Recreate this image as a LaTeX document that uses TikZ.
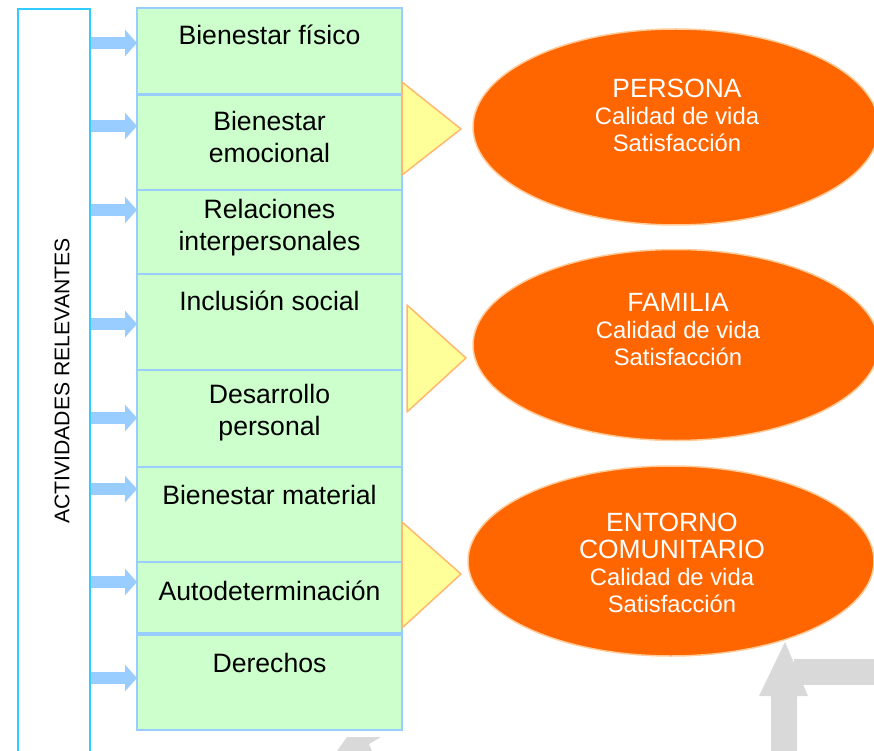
\documentclass[tikz,border=0pt]{standalone}
\usepackage{fontspec}
\setmainfont{Liberation Sans}
\usepackage{xcolor}
\usepackage{tikz}
\usetikzlibrary{arrows.meta,shapes.geometric}

\definecolor{barcyan}{HTML}{33CCFF}
\definecolor{arrowblue}{HTML}{99CCFF}
\definecolor{boxgreen}{HTML}{CCFFCC}
\definecolor{triyellow}{HTML}{FFFF99}
\definecolor{triorange}{HTML}{FFB870}
\definecolor{ellorange}{HTML}{FF6600}
\definecolor{ellrim}{HTML}{FFCC99}
\definecolor{shadowgray}{HTML}{D9D9D9}

\newcommand{\titlesize}{\fontsize{26.4}{29}\selectfont}

\tikzset{
  areabox/.style={draw=arrowblue, fill=boxgreen, line width=2pt, minimum width=265pt,
    inner sep=0pt, outer sep=0pt, anchor=north},
  areatext/.style={align=center, font=\fontsize{26.6}{32}\selectfont, inner sep=0pt},
  barrow/.style={arrowblue, line width=12pt, -{Triangle[width=26pt,length=12pt]}},
  wedge/.style={fill=triyellow, draw=triorange, line width=1.5pt, line join=round},
  outcome/.style={ellipse, fill=ellorange, draw=ellrim, line width=1.5pt,
    minimum width=406pt, inner sep=0pt},
  outtext/.style={align=center, text=white, font=\fontsize{23.8}{27}\selectfont, inner sep=0pt}
}

\begin{document}
\begin{tikzpicture}[x=1pt,y=-1pt]
\useasboundingbox (0,0) rectangle (874,751);

\node[draw=barcyan, line width=2pt, minimum width=72pt, minimum height=770pt,
  inner sep=0pt, anchor=north west] (bar) at (17,8) {};
\node[rotate=90, font=\fontsize{21.2}{25}\selectfont, inner sep=0pt] (actlabel) at (62,381) {ACTIVIDADES RELEVANTES};

\node[areabox, minimum height=86pt] (b1) at (269.5,8) {};
\node[areabox, minimum height=95pt] (b2) at (269.5,95) {};
\node[areabox, minimum height=84pt] (b3) at (269.5,190) {};
\node[areabox, minimum height=96pt] (b4) at (269.5,274) {};
\node[areabox, minimum height=97pt] (b5) at (269.5,370) {};
\node[areabox, minimum height=95pt] (b6) at (269.5,467) {};
\node[areabox, minimum height=71pt] (b7) at (269.5,562) {};
\node[areabox, minimum height=95pt] (b8) at (269.5,635) {};

\node[areatext] (t1) at ([yshift=-27pt]b1.north) {Bienestar físico};
\node[areatext] (t2) at ([yshift=-42pt]b2.north) {Bienestar\\emocional};
\node[areatext] (t3) at ([yshift=-38pt]b3.north) {Relaciones\\interpersonales};
\node[areatext] (t4) at ([yshift=-27pt]b4.north) {Inclusión social};
\node[areatext] (t5) at ([yshift=-43pt]b5.north) {Desarrollo\\personal};
\node[areatext] (t6) at ([yshift=-28pt]b6.north) {Bienestar material};
\node[areatext] (t7) at ([yshift=-29pt]b7.north) {Autodeterminación};
\node[areatext] (t8) at ([yshift=-28pt]b8.north) {Derechos};

\foreach \y/\b in {43/b1,126/b2,210/b3,324/b4,418/b5,489/b6,582/b7,678/b8}
  \draw[barrow] (bar.east |- 0,\y) -- (\b.west |- 0,\y);

\filldraw[wedge] (402,82) -- (461,129) -- (402,175) -- cycle;
\filldraw[wedge] (407,305) -- (466,358) -- (407,412) -- cycle;
\filldraw[wedge] (402,522) -- (461,574) -- (402,628) -- cycle;

\node[outcome, minimum height=196pt] (persona) at (676,127) {};
\node[outcome, minimum height=191pt] (familia) at (676,345) {};
\node[outcome, minimum height=190pt] (entorno) at (671,561) {};

\node[outtext] (tpersona) at (677,115) {{\titlesize PERSONA}\\Calidad de vida\\Satisfacción};
\node[outtext] (tfamilia) at (678,330) {{\titlesize FAMILIA}\\Calidad de vida\\Satisfacción};
\node[outtext] (tentorno) at (672,563) {{\titlesize ENTORNO}\\{\titlesize COMUNITARIO}\\Calidad de vida\\Satisfacción};

\fill[shadowgray] (771,760) -- (771,696) -- (759,696) -- (785,642) -- (808,696)
  -- (797,696) -- (797,760) -- cycle;
\fill[shadowgray] (794,659) rectangle (880,685);
\fill[shadowgray] (337,751) -- (347,737) -- (381,737) -- (369,744) -- (372,751) -- cycle;

\end{tikzpicture}
\end{document}
